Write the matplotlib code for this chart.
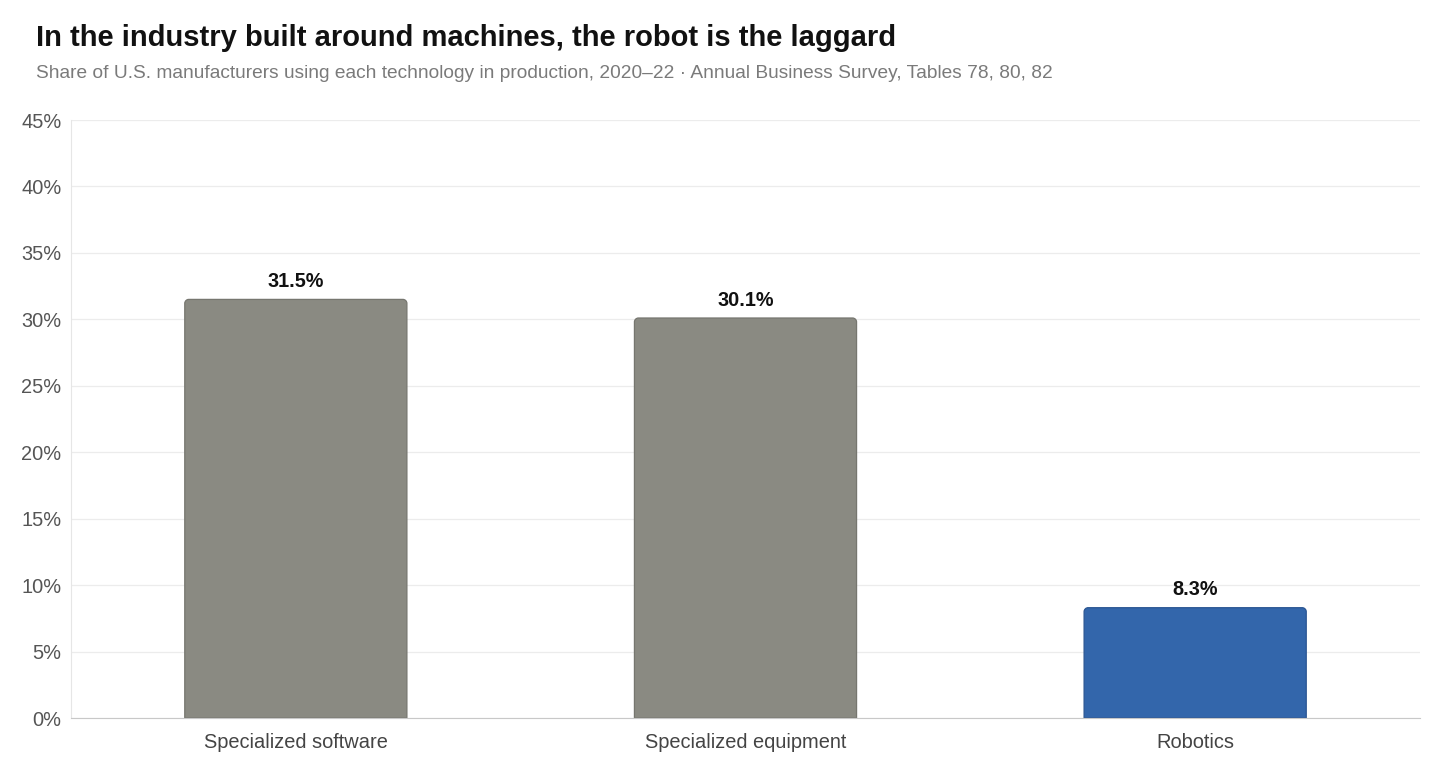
import matplotlib
matplotlib.use('Agg')
import matplotlib.pyplot as plt
from matplotlib.path import Path
from matplotlib.patches import PathPatch
from matplotlib.ticker import MultipleLocator, FuncFormatter

plt.rcParams['font.family'] = ['Liberation Sans', 'DejaVu Sans']

# data
categories = ['Specialized software', 'Specialized equipment', 'Robotics']
shares = [31.5, 30.1, 8.3]
bar_colors = ['#8a8a82', '#8a8a82', '#3366ab']
edge_colors = ['#76766f', '#76766f', '#2a5592']

title = 'In the industry built around machines, the robot is the laggard'
subtitle = ('Share of U.S. manufacturers using each technology in production, 2020\u201322'
            ' \u00b7 Annual Business Survey, Tables 78, 80, 82')

fig = plt.figure(figsize=(14.56, 7.83), dpi=100)
ax = fig.add_axes([71 / 1456, 65 / 783, 1349 / 1456, 598 / 783])

x = list(range(len(categories)))
bars = ax.bar(x, shares, width=0.494, color='none', edgecolor='none')
ax.set_xlim(-0.5, 2.5)
ax.set_ylim(0, 45)

# rounded top corners: swap each rectangle for a path with the same extent
px_x = 2.5 - (-0.5)
rx = 4 * px_x / 1349
ry = 4 * 45 / 598
for b, fc, ec in zip(bars, bar_colors, edge_colors):
    x0, w, h = b.get_x(), b.get_width(), b.get_height()
    x1 = x0 + w
    k = 0.45
    verts = [(x0, 0), (x0, h - ry),
             (x0, h - ry * k), (x0 + rx * k, h), (x0 + rx, h),
             (x1 - rx, h),
             (x1 - rx * k, h), (x1, h - ry * k), (x1, h - ry),
             (x1, 0), (x0, 0)]
    codes = [Path.MOVETO, Path.LINETO,
             Path.CURVE4, Path.CURVE4, Path.CURVE4,
             Path.LINETO,
             Path.CURVE4, Path.CURVE4, Path.CURVE4,
             Path.LINETO, Path.CLOSEPOLY]
    ax.add_patch(PathPatch(Path(verts, codes), facecolor=fc, edgecolor=ec,
                           linewidth=0.9, zorder=3))
    b.remove()

for xi, v in zip(x, shares):
    ax.annotate(f'{v:.1f}%', (xi, v), xytext=(0, 6), textcoords='offset points',
                ha='center', va='bottom', fontsize=14.3, fontweight='bold',
                color='#111111')

ax.yaxis.set_major_locator(MultipleLocator(5))
ax.yaxis.set_major_formatter(FuncFormatter(lambda v, p: f'{v:.0f}%'))
ax.set_xticks(x)
ax.set_xticklabels(categories)
ax.tick_params(axis='y', length=0, pad=7, labelsize=14.4, labelcolor='#555555')
ax.tick_params(axis='x', length=0, pad=11, labelsize=14.4, labelcolor='#444444')

ax.grid(axis='y', color='#ececec', linewidth=0.9, zorder=0)
ax.set_axisbelow(True)
for s in ['top', 'right']:
    ax.spines[s].set_visible(False)
ax.spines['left'].set_color('#e6e6e6')
ax.spines['bottom'].set_color('#c8c8c8')
ax.spines['bottom'].set_zorder(4)

fig.text(36 / 1456, 1 - 38 / 783, title, fontsize=21, fontweight='bold',
         color='#111111', ha='left', va='center')
fig.text(36 / 1456, 1 - 74 / 783, subtitle, fontsize=13.8, color='#7a7a7a',
         ha='left', va='center')

fig.savefig('out.png', dpi=100)
